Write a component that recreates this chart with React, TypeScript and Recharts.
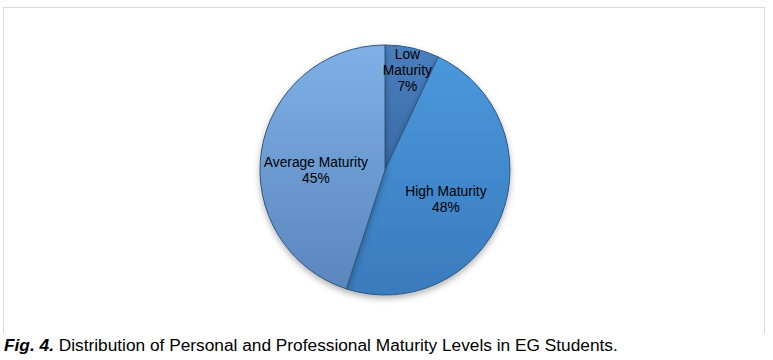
import React from "react";
import { PieChart, Pie, Cell } from "recharts";

const categories = ["Low Maturity", "High Maturity", "Average Maturity"];
const values = [7, 48, 45];
const labelLines = [["Low", "Maturity"], ["High Maturity"], ["Average Maturity"]];

const gradients = [
  { id: "gLow", top: "#4a7fbf", bottom: "#3a6aa6" },
  { id: "gHigh", top: "#4a97dc", bottom: "#3a7bbd" },
  { id: "gAvg", top: "#7eb0e6", bottom: "#5a86bd" },
];
const labelRadius = [0.82, 0.55, 0.56];
const labelShift = [
  [0, 0],
  [-3, 4],
  [0, 11],
];

const data = categories.map((name, i) => ({ name, value: values[i] }));
const RAD = Math.PI / 180;

const renderLabel = (props: any) => {
  const { cx, cy, midAngle, outerRadius, index, percent } = props;
  const r = outerRadius * labelRadius[index];
  const x = cx + r * Math.cos(-midAngle * RAD) + labelShift[index][0];
  const y = cy + r * Math.sin(-midAngle * RAD) + labelShift[index][1];
  const lines = [...labelLines[index], `${Math.round(percent * 100)}%`];
  const lh = 16;
  const y0 = y - ((lines.length - 1) * lh) / 2;
  return (
    <text
      x={x}
      y={y0}
      textAnchor="middle"
      dominantBaseline="central"
      fill="#000"
      fontSize={13.8}
      fontFamily="'Liberation Sans', Arial, sans-serif"
    >
      {lines.map((l, i) => (
        <tspan key={i} x={x} y={y0 + i * lh}>
          {l}
        </tspan>
      ))}
    </text>
  );
};

export default function App() {
  return (
    <div style={{ position: "absolute", left: 0, top: 0, width: 773, height: 360, background: "#fff" }}>
      <div
        style={{
          position: "absolute",
          left: 3,
          top: 7,
          width: 762,
          height: 326,
          borderTop: "1px solid #d9d9d9",
          borderLeft: "1px solid #d9d9d9",
          borderRight: "1px solid #d9d9d9",
          boxSizing: "border-box",
        }}
      />
      <div style={{ position: "absolute", left: 0, top: 0 }}>
        <PieChart width={773} height={335} margin={{ top: 0, right: 0, bottom: 0, left: 0 }}>
          <defs>
            {gradients.map((g) => (
              <linearGradient key={g.id} id={g.id} x1="0" y1="0" x2="0" y2="1">
                <stop offset="0%" stopColor={g.top} />
                <stop offset="100%" stopColor={g.bottom} />
              </linearGradient>
            ))}
            <filter id="shadow" x="-20%" y="-20%" width="140%" height="140%">
              <feDropShadow dx="0" dy="3" stdDeviation="3" floodColor="#000" floodOpacity="0.3" />
            </filter>
          </defs>
          <Pie
            data={data}
            dataKey="value"
            nameKey="name"
            cx={385}
            cy={170}
            outerRadius={125}
            startAngle={90}
            endAngle={-270}
            stroke="#2f5680"
            strokeWidth={1}
            label={renderLabel}
            labelLine={false}
            isAnimationActive={false}
            style={{ filter: "url(#shadow)" }}
          >
            {data.map((d, i) => (
              <Cell key={d.name} fill={`url(#${gradients[i].id})`} />
            ))}
          </Pie>
        </PieChart>
      </div>
      <div
        style={{
          position: "absolute",
          left: 4,
          top: 335,
          fontFamily: "'Liberation Sans', Arial, sans-serif",
          fontSize: 17.3,
          color: "#000",
          whiteSpace: "nowrap",
          lineHeight: "20px",
        }}
      >
        <b><i>Fig. 4.</i></b> Distribution of Personal and Professional Maturity Levels in EG Students.
      </div>
    </div>
  );
}
